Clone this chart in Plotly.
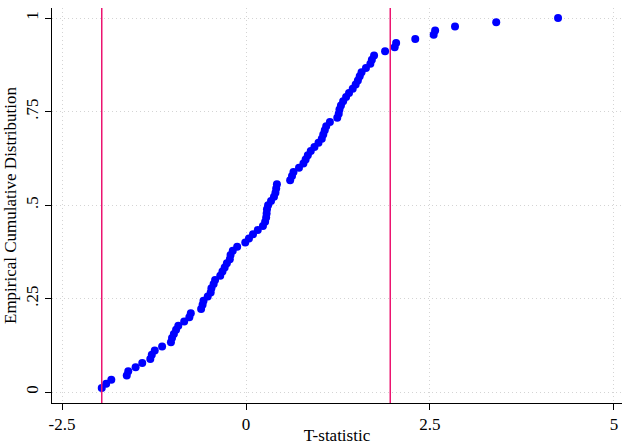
import plotly.graph_objects as go

# T-statistics (sorted)
t_stats = [
    -1.96, -1.90, -1.83, -1.62, -1.60, -1.50, -1.41, -1.30, -1.28, -1.24,
    -1.14, -1.02, -1.005, -0.98, -0.95, -0.92, -0.84, -0.77, -0.75, -0.61,
    -0.59, -0.577, -0.52, -0.48, -0.47, -0.44, -0.42, -0.35, -0.32, -0.29,
    -0.26, -0.22, -0.21, -0.18, -0.12, -0.01, 0.04, 0.095, 0.16, 0.23,
    0.26, 0.274, 0.28, 0.285, 0.30, 0.34, 0.38, 0.40, 0.41, 0.42,
    0.60, 0.625, 0.645, 0.72, 0.78, 0.81, 0.84, 0.88, 0.93, 0.985,
    1.03, 1.05, 1.07, 1.09, 1.14, 1.24, 1.26, 1.27, 1.29, 1.32,
    1.36, 1.40, 1.45, 1.49, 1.52, 1.545, 1.57, 1.63, 1.69, 1.71,
    1.74, 1.89, 2.02, 2.04, 2.30, 2.55, 2.57, 2.84, 3.40, 4.24,
]
critical_values = [-1.96, 1.96]
x_ticks = [-2.5, 0, 2.5, 5]
x_tick_labels = ["-2.5", "0", "2.5", "5"]
y_ticks = [0, 0.25, 0.5, 0.75, 1]
y_tick_labels = ["0", ".25", ".5", ".75", "1"]

n = len(t_stats)
xs = sorted(t_stats)
ecdf = [(i + 1) / n for i in range(n)]

fig = go.Figure()
fig.add_trace(go.Scatter(
    x=xs, y=ecdf, mode="markers",
    marker=dict(color="#0000ff", size=8, line=dict(width=0)),
    showlegend=False,
))
for cv in critical_values:
    fig.add_vline(x=cv, line=dict(color="#ec1470", width=1.5), layer="above")

font_family = "Liberation Serif, Times New Roman, serif"
grid_dash = "1px,3px"
fig.update_layout(
    width=623, height=445,
    margin=dict(l=52, r=1, t=8, b=42),
    paper_bgcolor="white", plot_bgcolor="white",
    font=dict(family=font_family, color="black", size=17),
    xaxis=dict(
        range=[-2.636, 5.109], automargin=False,
        tickvals=x_ticks, ticktext=x_tick_labels,
        ticks="outside", ticklen=6, tickcolor="black", tickwidth=1,
        showline=True, linecolor="black", linewidth=1,
        showgrid=True, gridcolor="#d4d4d4", griddash=grid_dash, gridwidth=1,
        zeroline=False,
        tickfont=dict(size=17),
        title=dict(text="T-statistic", font=dict(size=17), standoff=2),
    ),
    yaxis=dict(
        range=[-0.029, 1.027], automargin=False,
        tickvals=y_ticks, ticktext=y_tick_labels, tickangle=-90,
        ticks="outside", ticklen=6, tickcolor="black", tickwidth=1,
        showline=True, linecolor="black", linewidth=1,
        showgrid=True, gridcolor="#d4d4d4", griddash=grid_dash, gridwidth=1,
        zeroline=False,
        tickfont=dict(size=17),
        title=dict(text="Empirical Cumulative Distribution", font=dict(size=17), standoff=2),
    ),
)
fig.write_html("out.html")
